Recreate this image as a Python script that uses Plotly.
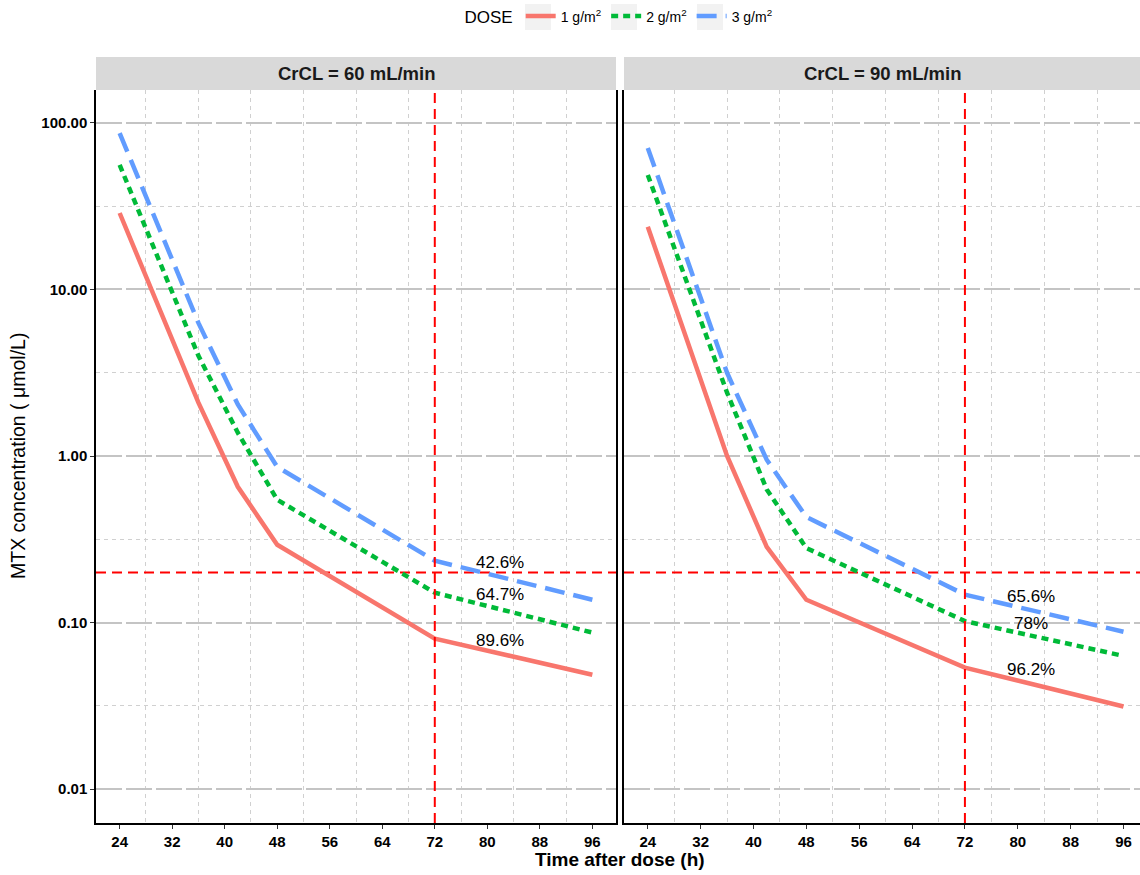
import math
import plotly.graph_objects as go

# ---------------- data ----------------
times = [24, 36, 42, 48, 72, 96]
doses = ["1 g/m<sup>2</sup>", "2 g/m<sup>2</sup>", "3 g/m<sup>2</sup>"]
panels = ["CrCL = 60 mL/min", "CrCL = 90 mL/min"]

conc_60_1g = [28.8, 2.09, 0.653, 0.293, 0.080, 0.0486]
conc_60_2g = [56.0, 4.0, 1.38, 0.546, 0.151, 0.087]
conc_60_3g = [87.0, 6.3, 2.04, 0.86, 0.235, 0.137]

conc_90_1g = [23.8, 1.0, 0.285, 0.137, 0.0536, 0.0313]
conc_90_2g = [48.7, 2.4, 0.63, 0.28, 0.102, 0.063]
conc_90_3g = [70.8, 3.16, 0.95, 0.43, 0.147, 0.088]

pct_60 = ["89.6%", "64.7%", "42.6%"]
pct_90 = ["96.2%", "78%", "65.6%"]

threshold_conc = 0.2
threshold_time = 72
label_time = 82

x_ticks = [24, 32, 40, 48, 56, 64, 72, 80, 88, 96]
x_minor = [28, 36, 44, 52, 60, 68, 76, 84, 92]
y_ticks = [0.01, 0.1, 1, 10, 100]
y_ticktext = ["0.01", "0.10", "1.00", "10.00", "100.00"]
y_minor = [0.0316, 0.316, 3.16, 31.6]

# ---------------- style ----------------
colors = ["#F8766D", "#00BA38", "#619CFF"]
dashes = ["solid", "7px,5px", "20px,9px"]
FONT = "Liberation Sans, Arial, Helvetica, sans-serif"

W, H = 1140, 875
ml, mr, mt, mb = 96, 0, 90, 52
plot_w = W - ml - mr
plot_h = H - mt - mb

dom1 = [0, (616 - ml) / plot_w]
dom2 = [(624 - ml) / plot_w, 1.0]
xr1 = [20.4, 99.6]
xr2 = [20.4, 98.5]

fig = go.Figure()

panel_data = [
    [conc_60_1g, conc_60_2g, conc_60_3g],
    [conc_90_1g, conc_90_2g, conc_90_3g],
]
panel_pct = [pct_60, pct_90]
axes = [("x", "y", xr1), ("x2", "y2", xr2)]

for p, (xa, ya, xr) in enumerate(axes):
    # reference lines
    fig.add_trace(go.Scatter(x=xr, y=[threshold_conc, threshold_conc], mode="lines",
                             line=dict(color="#FF0000", width=2, dash="10px,6px"),
                             xaxis=xa, yaxis=ya, showlegend=False, hoverinfo="skip"))
    fig.add_shape(type="line", xref=xa, yref=f"{ya} domain", x0=threshold_time, x1=threshold_time,
                  y0=0, y1=1, line=dict(color="#FF0000", width=2, dash="10px,6px"), layer="above")
    for d, vals in enumerate(panel_data[p]):
        fig.add_trace(go.Scatter(x=times, y=vals, mode="lines", name=doses[d],
                                 line=dict(color=colors[d], width=4.5, dash=dashes[d]),
                                 xaxis=xa, yaxis=ya, legendgroup=doses[d],
                                 showlegend=(p == 0)))
        v72 = vals[times.index(threshold_time)]
        fig.add_annotation(x=label_time, y=math.log10(v72), xref=xa, yref=ya,
                           text=panel_pct[p][d], showarrow=False, yshift=-2,
                           xanchor="center", yanchor="middle",
                           font=dict(family=FONT, size=17, color="black"))

# strips
for p, xa in enumerate(["x", "x2"]):
    fig.add_shape(type="rect", xref=f"{xa} domain", yref="paper", x0=0, x1=1,
                  y0=1, y1=1 + 33 / plot_h, fillcolor="#D9D9D9", line=dict(width=0), layer="below")
    fig.add_annotation(xref=f"{xa} domain", yref="paper", x=0.5, y=1 + 16.5 / plot_h,
                       xanchor="center", yanchor="middle",
                       text=f"<b>{panels[p]}</b>", showarrow=False,
                       font=dict(family=FONT, size=18.5, color="#1A1A1A"))

# legend key backgrounds (ggplot style)
for x0 in [525, 611, 697]:
    fig.add_shape(type="rect", xref="paper", yref="paper",
                  x0=(x0 - ml) / plot_w, x1=(x0 + 26 - ml) / plot_w,
                  y0=1 + (mt - 30) / plot_h, y1=1 + (mt - 4) / plot_h,
                  fillcolor="#F2F2F2", line=dict(width=0), layer="below")

xcommon = dict(type="linear", tickmode="array", tickvals=x_ticks,
               ticktext=[f"<b>{t}</b>" for t in x_ticks],
               showgrid=False, zeroline=False, showline=True, linecolor="black", linewidth=1.5,
               ticks="outside", ticklen=4, tickcolor="#333333", tickwidth=1,
               tickfont=dict(family=FONT, size=15, color="black"),
               minor=dict(tickvals=x_minor, showgrid=True, gridcolor="#D0D0D0",
                          griddash="4px,4px", gridwidth=1, ticks=""))
ycommon = dict(type="log", tickmode="array", tickvals=y_ticks,
               range=[-2.204, 2.198],
               showgrid=True, gridcolor="#C4C4C4", gridwidth=1.5, griddash="26px,4px",
               zeroline=False, showline=True, linecolor="black", linewidth=1.5,
               ticks="outside", ticklen=4, tickcolor="#333333", tickwidth=1,
               tickfont=dict(family=FONT, size=15, color="black"),
               minor=dict(tickvals=y_minor, showgrid=True, gridcolor="#D0D0D0",
                          griddash="4px,4px", gridwidth=1, ticks=""))

fig.update_layout(
    width=W, height=H,
    margin=dict(l=ml, r=mr, t=mt, b=mb),
    paper_bgcolor="white", plot_bgcolor="white",
    font=dict(family=FONT, color="black"),
    xaxis=dict(domain=dom1, range=xr1, anchor="y", **xcommon),
    xaxis2=dict(domain=dom2, range=xr2, anchor="y2", **xcommon),
    yaxis=dict(anchor="x", mirror=True, ticktext=[f"<b>{t}</b>" for t in y_ticktext], **ycommon),
    yaxis2=dict(anchor="x2", matches="y", showticklabels=False, ticks="", ticktext=y_ticktext,
                **{k: v for k, v in ycommon.items() if k not in ("ticks",)}),
    legend=dict(orientation="h", x=(620 - ml) / plot_w, xanchor="center",
                y=1 + (mt - 17) / plot_h, yanchor="middle",
                title=dict(text="DOSE", font=dict(family=FONT, size=17), side="left"),
                font=dict(family=FONT, size=14), itemwidth=30, bgcolor="rgba(0,0,0,0)"),
    showlegend=True,
)

fig.add_annotation(xref="paper", yref="paper", x=(620 - ml) / plot_w, y=-(859 - 823) / plot_h,
                   text="<b>Time after dose (h)</b>", showarrow=False,
                   xanchor="center", yanchor="middle",
                   font=dict(family=FONT, size=19, color="black"))
fig.add_annotation(xref="paper", yref="paper", x=-(ml - 18) / plot_w, y=(823 - 456) / plot_h,
                   text="MTX concentration ( \u03bcmol/L)", showarrow=False, textangle=-90,
                   xanchor="center", yanchor="middle",
                   font=dict(family=FONT, size=19.5, color="black"))

fig.write_html("out.html")
